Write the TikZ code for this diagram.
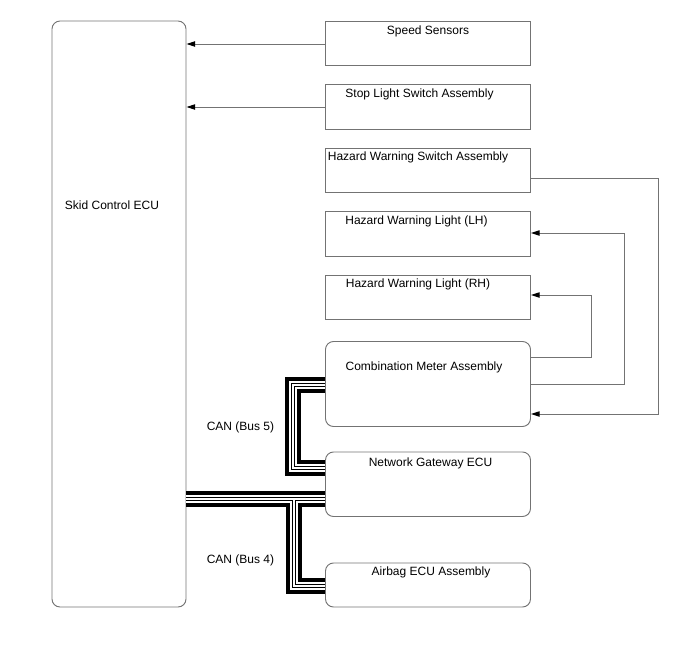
\documentclass[tikz,border=0pt]{standalone}
\usepackage{fontspec}
\setmainfont{Liberation Sans}
\usetikzlibrary{arrows.meta,fit}

\begin{document}
\begin{tikzpicture}[
  x=0.75pt, y=-0.75pt,
  font=\fontsize{9}{10.5}\selectfont,
  >={Triangle[length=6.5pt,width=4pt,color=black]},
  unit/.style={draw=black!55, line width=0.7pt, inner sep=0pt},
  ecu/.style={unit, rounded corners=6pt},
  lab/.style={inner sep=0pt, anchor=center},
  link/.style={->, draw=black!55, line width=0.7pt},
  canbus/.style={draw=black, line width=3pt,
    preaction={draw=black, line width=12pt},
    preaction={draw=white, line width=6pt},
    postaction={draw=white, line width=1.5pt}}
]
\path[use as bounding box] (0,0) rectangle (688,658);

% units
\node[ecu, fit={(52,21) (186,607)}] (skid) {};
\node[unit, fit={(325.5,21) (530.5,65.5)}] (speed) {};
\node[unit, fit={(325.5,84.5) (530.5,129)}] (stop) {};
\node[unit, fit={(325.5,148.5) (530.5,192.5)}] (hazsw) {};
\node[unit, fit={(325.5,211.5) (530.5,256)}] (lhl) {};
\node[unit, fit={(325.5,275) (530.5,319.5)}] (rhl) {};
\node[ecu, fit={(325.5,341.5) (530.5,426.5)}] (comb) {};
\node[ecu, fit={(325.5,452) (530.5,516.5)}] (gw) {};
\node[ecu, fit={(325.5,563) (530.5,607)}] (airbag) {};

\node[lab] (skid-t) at (112,205) {Skid Control ECU};
\node[lab] (speed-t) at (428,31) {Speed Sensors};
\node[lab] (stop-t) at (419.5,94) {Stop Light Switch Assembly};
\node[lab] (hazsw-t) at (418,157) {Hazard Warning Switch Assembly};
\node[lab] (lhl-t) at (416.5,221) {Hazard Warning Light (LH)};
\node[lab] (rhl-t) at (418,284) {Hazard Warning Light (RH)};
\node[lab] (comb-t) at (424,367) {Combination Meter Assembly};
\node[lab] (gw-t) at (430.5,463) {Network Gateway ECU};
\node[lab] (airbag-t) at (431,572) {Airbag ECU Assembly};
\node[lab] (bus5-t) at (240.5,427) {CAN (Bus 5)};
\node[lab] (bus4-t) at (240.5,560) {CAN (Bus 4)};

% signal lines
\draw[link] (speed.west |- 0,44) -- (skid.east |- 0,44);
\draw[link] (stop.west |- 0,107) -- (skid.east |- 0,107);
\draw[link] (hazsw.east |- 0,178) -| (658,414) -- (comb.east |- 0,414);
\draw[link] (comb.east |- 0,384) -- (624,384) |- (lhl.east |- 0,233);
\draw[link] (comb.east |- 0,357) -- (591,357) |- (rhl.east |- 0,295);

% CAN buses
\draw[canbus] (comb.west |- 0,384.5) -- (293,384.5) |- (gw.west |- 0,467.5);
\draw[canbus] (skid.east |- 0,499) -- (gw.west |- 0,499)
  (294,499) |- (airbag.west |- 0,586);
\end{tikzpicture}
\end{document}
